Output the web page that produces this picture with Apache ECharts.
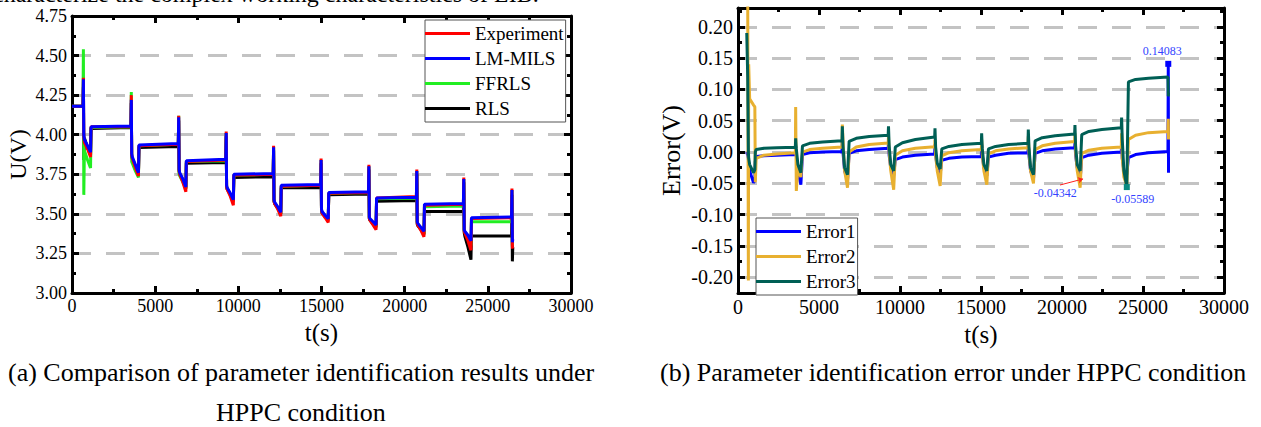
<!DOCTYPE html>
<html><head><meta charset="utf-8">
<script src="https://cdn.jsdelivr.net/npm/echarts@6.0.0/dist/echarts.min.js"></script>
<style>html,body{margin:0;padding:0;background:#fff}#c{width:1261px;height:427px}</style>
</head><body><div id="c"></div><script>
// ---------- data: panel (a) ----------
const tA = [0, 660,
 685, 710, 745, 935, 1115, 1145, 3540,
 3565, 3590, 3625, 3815, 3995, 4025, 6390,
 6415, 6440, 6475, 6665, 6845, 6875, 9245,
 9270, 9295, 9330, 9520, 9700, 9730, 12095,
 12120, 12145, 12180, 12370, 12550, 12580, 14950,
 14975, 15000, 15035, 15225, 15405, 15435, 17825,
 17850, 17875, 17910, 18100, 18280, 18310, 20705,
 20730, 20755, 20790, 20980, 21160, 21190, 23530,
 23555, 23580, 23615, 23805, 23985, 24015, 26425,
 26450, 26475, 26500];
const uExp = [4.18, 4.18,
 4.36, 3.99, 3.95, 3.91, 3.86, 4.05, 4.05,
 4.25, 3.87, 3.85, 3.79, 3.74, 3.93, 3.94,
 4.12, 3.77, 3.75, 3.70, 3.64, 3.83, 3.84,
 4.02, 3.67, 3.655, 3.61, 3.555, 3.745, 3.75,
 3.93, 3.58, 3.565, 3.53, 3.485, 3.675, 3.68,
 3.85, 3.52, 3.505, 3.475, 3.445, 3.63, 3.635,
 3.81, 3.47, 3.46, 3.43, 3.40, 3.60, 3.61,
 3.78, 3.44, 3.43, 3.395, 3.355, 3.555, 3.56,
 3.73, 3.39, 3.38, 3.33, 3.27, 3.47, 3.475,
 3.66, 3.29, 3.28];
const uLM = [4.18, 4.18,
 4.35, 4.00, 3.97, 3.93, 3.89, 4.05, 4.055,
 4.22, 3.88, 3.86, 3.81, 3.76, 3.935, 3.945,
 4.11, 3.78, 3.76, 3.72, 3.67, 3.835, 3.845,
 4.01, 3.68, 3.665, 3.63, 3.59, 3.75, 3.755,
 3.92, 3.59, 3.575, 3.545, 3.51, 3.68, 3.685,
 3.84, 3.53, 3.515, 3.49, 3.47, 3.635, 3.64,
 3.80, 3.48, 3.47, 3.45, 3.43, 3.60, 3.605,
 3.77, 3.45, 3.44, 3.415, 3.39, 3.56, 3.565,
 3.72, 3.40, 3.39, 3.365, 3.33, 3.475, 3.48,
 3.65, 3.32, 3.34];
const uFF = [4.18, 4.18,
 4.54, 3.62, 3.90, 3.84, 3.79, 4.045, 4.05,
 4.27, 3.83, 3.82, 3.77, 3.73, 3.93, 3.94,
 4.12, 3.75, 3.74, 3.70, 3.66, 3.83, 3.835,
 4.01, 3.67, 3.66, 3.62, 3.58, 3.745, 3.75,
 3.92, 3.585, 3.57, 3.54, 3.50, 3.675, 3.68,
 3.84, 3.525, 3.51, 3.485, 3.46, 3.63, 3.635,
 3.80, 3.475, 3.465, 3.44, 3.415, 3.595, 3.60,
 3.77, 3.445, 3.435, 3.405, 3.375, 3.545, 3.55,
 3.72, 3.395, 3.385, 3.35, 3.30, 3.45, 3.45,
 3.65, 3.30, 3.30];
const uRLS = [4.18, 4.18,
 4.30, 3.84, 3.98, 3.92, 3.87, 4.04, 4.045,
 4.20, 3.86, 3.85, 3.80, 3.75, 3.92, 3.925,
 4.09, 3.77, 3.75, 3.71, 3.66, 3.82, 3.825,
 3.99, 3.67, 3.655, 3.62, 3.58, 3.73, 3.735,
 3.90, 3.58, 3.565, 3.535, 3.50, 3.665, 3.665,
 3.82, 3.52, 3.505, 3.48, 3.46, 3.62, 3.625,
 3.78, 3.47, 3.46, 3.435, 3.415, 3.58, 3.585,
 3.75, 3.435, 3.425, 3.40, 3.37, 3.515, 3.515,
 3.70, 3.38, 3.36, 3.29, 3.21, 3.36, 3.36,
 3.62, 3.20, 3.29];
const namesA = ['Experiment', 'LM-MILS', 'FFRLS', 'RLS'];

// ---------- data: panel (b) ----------
const tB = [540, 600, 640, 660, 720, 960, 1040, 1070, 1120, 1600, 2400, 3540,
 3560, 3600, 3700, 3880, 3980, 4420, 5220, 6420,
 6440, 6480, 6580, 6760, 6860, 7300, 8100, 9270,
 9290, 9330, 9430, 9610, 9710, 10150, 10950, 12140,
 12160, 12200, 12300, 12480, 12580, 13020, 13820, 15020,
 15040, 15080, 15180, 15360, 15460, 15900, 16700, 17900,
 17920, 17960, 18060, 18240, 18340, 18780, 19580, 20780,
 20800, 20840, 20940, 21120, 21220, 21660, 22460, 23660,
 23680, 23720, 23820, 24000, 24100, 24540, 25340, 26540,
 26560, 26575];
const err1 = [0.0, -0.005, -0.01, -0.02, -0.03, -0.049, -0.045, -0.015, -0.007, -0.006, -0.005, -0.004,
 0.01, -0.005, -0.03, -0.052, -0.004, -0.001, 0.0, 0.001,
 0.02, 0.0, -0.03, -0.045, -0.002, 0.002, 0.004, 0.006,
 0.015, -0.005, -0.025, -0.037, -0.012, -0.008, -0.005, -0.003,
 0.012, -0.005, -0.025, -0.035, -0.013, -0.01, -0.008, -0.007,
 0.012, -0.005, -0.025, -0.038, -0.008, -0.005, -0.002, -0.001,
 0.015, -0.005, -0.03, -0.043, -0.002, 0.002, 0.005, 0.007,
 0.015, -0.005, -0.025, -0.04342, -0.009, -0.005, -0.002, 0.0,
 0.015, -0.01, -0.03, -0.036, -0.009, -0.004, -0.001, 0.001,
 0.14083, -0.033];
const err2 = [0.30, 0.25, -0.205, 0.14, 0.085, 0.075, 0.072, -0.048, -0.01, -0.005, -0.003, -0.001,
 0.072, -0.062, -0.025, -0.04, 0.0, 0.004, 0.006, 0.008,
 0.044, 0.02, -0.03, -0.057, 0.0, 0.008, 0.012, 0.0146,
 0.025, 0.0, -0.03, -0.06, -0.005, 0.002, 0.006, 0.0085,
 0.02, -0.005, -0.03, -0.054, -0.006, -0.001, 0.002, 0.004,
 0.02, -0.005, -0.03, -0.052, -0.003, 0.002, 0.005, 0.007,
 0.025, 0.0, -0.03, -0.05, 0.004, 0.01, 0.014, 0.017,
 0.03, 0.0, -0.03, -0.057, -0.002, 0.003, 0.006, 0.008,
 0.03, -0.01, -0.04, -0.054, 0.02, 0.027, 0.031, 0.033,
 0.053, 0.02];
const err3 = [0.19, 0.12, 0.0, -0.01, -0.02, -0.033, -0.028, 0.0, 0.004, 0.006, 0.007, 0.0075,
 0.022, 0.005, -0.02, -0.033, 0.01, 0.014, 0.016, 0.018,
 0.041, 0.01, -0.025, -0.036, 0.017, 0.022, 0.025, 0.027,
 0.041, 0.01, -0.02, -0.03, 0.008, 0.015, 0.02, 0.024,
 0.038, 0.008, -0.018, -0.027, 0.005, 0.009, 0.012, 0.014,
 0.03, 0.005, -0.02, -0.03, 0.005, 0.009, 0.012, 0.014,
 0.036, 0.008, -0.025, -0.036, 0.018, 0.023, 0.026, 0.029,
 0.043, 0.01, -0.02, -0.03, 0.028, 0.033, 0.036, 0.039,
 0.055, 0.02, -0.03, -0.05589, 0.112, 0.116, 0.118, 0.12,
 0.089, 0.095];
const namesB = ['Error1', 'Error2', 'Error3'];
// annotations (time, value)
const noteMaxT = 26560, noteMaxV = 0.14083;
const noteMin1T = 21120, noteMin1V = -0.04342;
const noteMin2T = 24000, noteMin2V = -0.05589;
const arrowT = [19880, 21300], arrowV = [-0.0526, -0.0429];

// ---------- ticks ----------
const xTicks = [0, 5000, 10000, 15000, 20000, 25000, 30000];
const yTicksA = [3.00, 3.25, 3.50, 3.75, 4.00, 4.25, 4.50, 4.75];
const yTicksB = [-0.20, -0.15, -0.10, -0.05, 0.00, 0.05, 0.10, 0.15, 0.20];
const yMinorB = [-0.175, -0.125, -0.075, -0.025, 0.025, 0.075, 0.125, 0.175, 0.225];

const FONT = 'Liberation Serif';
const zip = (t, v) => t.map((x, i) => [x, v[i]]);
const GRID_LINE = {show: true, lineStyle: {color: '#c3c3c3', width: 3, type: [19, 15]}};

function xAx(gi, pos, fs, gap) {
  return {type: 'value', gridIndex: gi, position: pos, min: xTicks[0], max: xTicks[xTicks.length - 1],
    interval: xTicks[1] - xTicks[0],
    axisLine: {show: true, onZero: false, lineStyle: {color: '#000', width: 3}},
    axisTick: {show: true, inside: true, length: 7, lineStyle: {color: '#000', width: 3}},
    minorTick: {show: true, splitNumber: 2, length: 4, lineStyle: {color: '#000', width: 3}},
    axisLabel: {show: pos === 'bottom', fontFamily: FONT, fontSize: fs, color: '#000', margin: 4,
      formatter: v => String(v)},
    splitLine: {show: false}, minorSplitLine: {show: false},
    name: pos === 'bottom' ? 't(s)' : '', nameLocation: 'middle', nameGap: gap,
    nameTextStyle: {fontFamily: FONT, fontSize: 25, color: '#000'}};
}
function yAxA(pos) {
  return {type: 'value', gridIndex: 0, position: pos, min: yTicksA[0], max: yTicksA[yTicksA.length - 1],
    interval: yTicksA[1] - yTicksA[0],
    axisLine: {show: true, onZero: false, lineStyle: {color: '#000', width: 3}},
    axisTick: {show: true, inside: true, length: 7, lineStyle: {color: '#000', width: 3}},
    minorTick: {show: true, splitNumber: 2, length: 4, lineStyle: {color: '#000', width: 3}},
    axisLabel: {show: pos === 'left', fontFamily: FONT, fontSize: 18, color: '#000', margin: 5,
      formatter: v => v.toFixed(2)},
    splitLine: pos === 'left' ? GRID_LINE : {show: false}, minorSplitLine: {show: false},
    name: pos === 'left' ? 'U(V)' : '', nameLocation: 'middle', nameGap: 42, nameRotate: 90,
    nameTextStyle: {fontFamily: FONT, fontSize: 24, color: '#000'}};
}
function yAxB(pos, major) {
  const vals = major ? yTicksB : yMinorB;
  return {type: 'value', gridIndex: 1, position: pos, min: -0.225, max: 0.23,
    axisLine: {show: major, onZero: false, lineStyle: {color: '#000', width: 3}},
    axisTick: {show: true, inside: true, length: major ? 7 : 4, customValues: vals,
      lineStyle: {color: '#000', width: 3}},
    axisLabel: {show: major && pos === 'left', customValues: yTicksB, fontFamily: FONT, fontSize: 20,
      color: '#000', margin: 5, formatter: v => v.toFixed(2)},
    splitLine: (major && pos === 'left') ? GRID_LINE : {show: false},
    name: (major && pos === 'left') ? 'Error(V)' : '', nameLocation: 'middle', nameGap: 54, nameRotate: 90,
    nameTextStyle: {fontFamily: FONT, fontSize: 26, color: '#000'}};
}
function line(name, data, color, xi, yi, extra) {
  return Object.assign({type: 'line', name, data, xAxisIndex: xi, yAxisIndex: yi, symbol: 'none',
    showSymbol: false, lineStyle: {color, width: 3}, itemStyle: {color}, animation: false, clip: true}, extra || {});
}
const capStyle = {fontFamily: FONT, fontSize: 26, fontWeight: 'normal', color: '#000'};
const legendBase = {orient: 'vertical', icon: 'rect', itemWidth: 45, itemHeight: 3, itemGap: 6,
  backgroundColor: '#fff', borderColor: '#555', borderWidth: 1, borderRadius: 0, padding: [4, 2, 4, 0],
  textStyle: {fontFamily: FONT, fontSize: 19, color: '#000'}};

const chart = echarts.init(document.getElementById('c'), null, {renderer: 'svg'});
chart.setOption({
  animation: false,
  backgroundColor: '#fff',
  title: [
    {text: '(a) Comparison of parameter identification results under', left: 8, top: 359, padding: 0, textStyle: capStyle},
    {text: 'HPPC condition', left: 216, top: 399, padding: 0, textStyle: capStyle},
    {text: '(b) Parameter identification error under HPPC condition', left: 660, top: 359, padding: 0, textStyle: capStyle}
  ],
  graphic: [{type: 'text', left: -7, top: -18, silent: true,
    style: {text: 'characterize the complex working characteristics of LIB.', fontFamily: FONT, fontSize: 24, fill: '#000'}}],
  grid: [
    {left: 72, top: 16, width: 499, height: 277},
    {left: 738, top: 8, width: 486, height: 285}
  ],
  legend: [
    Object.assign({data: namesA, left: 425, top: 20}, legendBase),
    Object.assign({data: namesB, left: 756, top: 218}, legendBase)
  ],
  xAxis: [xAx(0, 'bottom', 18, 23), xAx(0, 'top', 18, 0), xAx(1, 'bottom', 20, 24), xAx(1, 'top', 20, 0)],
  yAxis: [yAxA('left'), yAxA('right'), yAxB('left', true), yAxB('left', false), yAxB('right', true), yAxB('right', false)],
  series: [
    line(namesA[3], zip(tA, uRLS), '#000000', 0, 0),
    line(namesA[2], zip(tA, uFF), '#22ee22', 0, 0),
    line(namesA[0], zip(tA, uExp), '#ff0000', 0, 0),
    line(namesA[1], zip(tA, uLM), '#0000ff', 0, 0),
    line(namesB[0], zip(tB, err1), '#0000ff', 2, 2, {
      markPoint: {symbol: 'rect', symbolSize: 6, itemStyle: {color: '#0000ff'}, animation: false,
        data: [
          {coord: [noteMaxT, noteMaxV], label: {show: true, formatter: noteMaxV.toFixed(5), position: 'top',
            distance: 4, offset: [-6, 0], color: '#3344ff', fontFamily: FONT, fontSize: 12}},
          {coord: [noteMin1T, noteMin1V], symbolSize: 0, label: {show: true, formatter: noteMin1V.toFixed(5),
            position: 'inside', offset: [-25, 14], color: '#3344ff', fontFamily: FONT, fontSize: 12}}
        ]},
      markLine: {silent: true, symbol: ['none', 'arrow'], symbolSize: 5, animation: false,
        lineStyle: {color: '#ff2020', width: 1, type: 'solid'}, label: {show: false},
        data: [[{coord: [arrowT[0], arrowV[0]]}, {coord: [arrowT[1], arrowV[1]]}]]}
    }),
    line(namesB[1], zip(tB, err2), '#e8b030', 2, 2),
    line(namesB[2], zip(tB, err3), '#005f55', 2, 2, {
      markPoint: {symbol: 'rect', symbolSize: 6, itemStyle: {color: '#0a8a80'}, animation: false,
        data: [{coord: [noteMin2T, noteMin2V], label: {show: true, formatter: noteMin2V.toFixed(5),
          position: 'bottom', distance: 3, offset: [6, 0], color: '#3344ff', fontFamily: FONT, fontSize: 12}}]}
    })
  ]
});
</script></body></html>
